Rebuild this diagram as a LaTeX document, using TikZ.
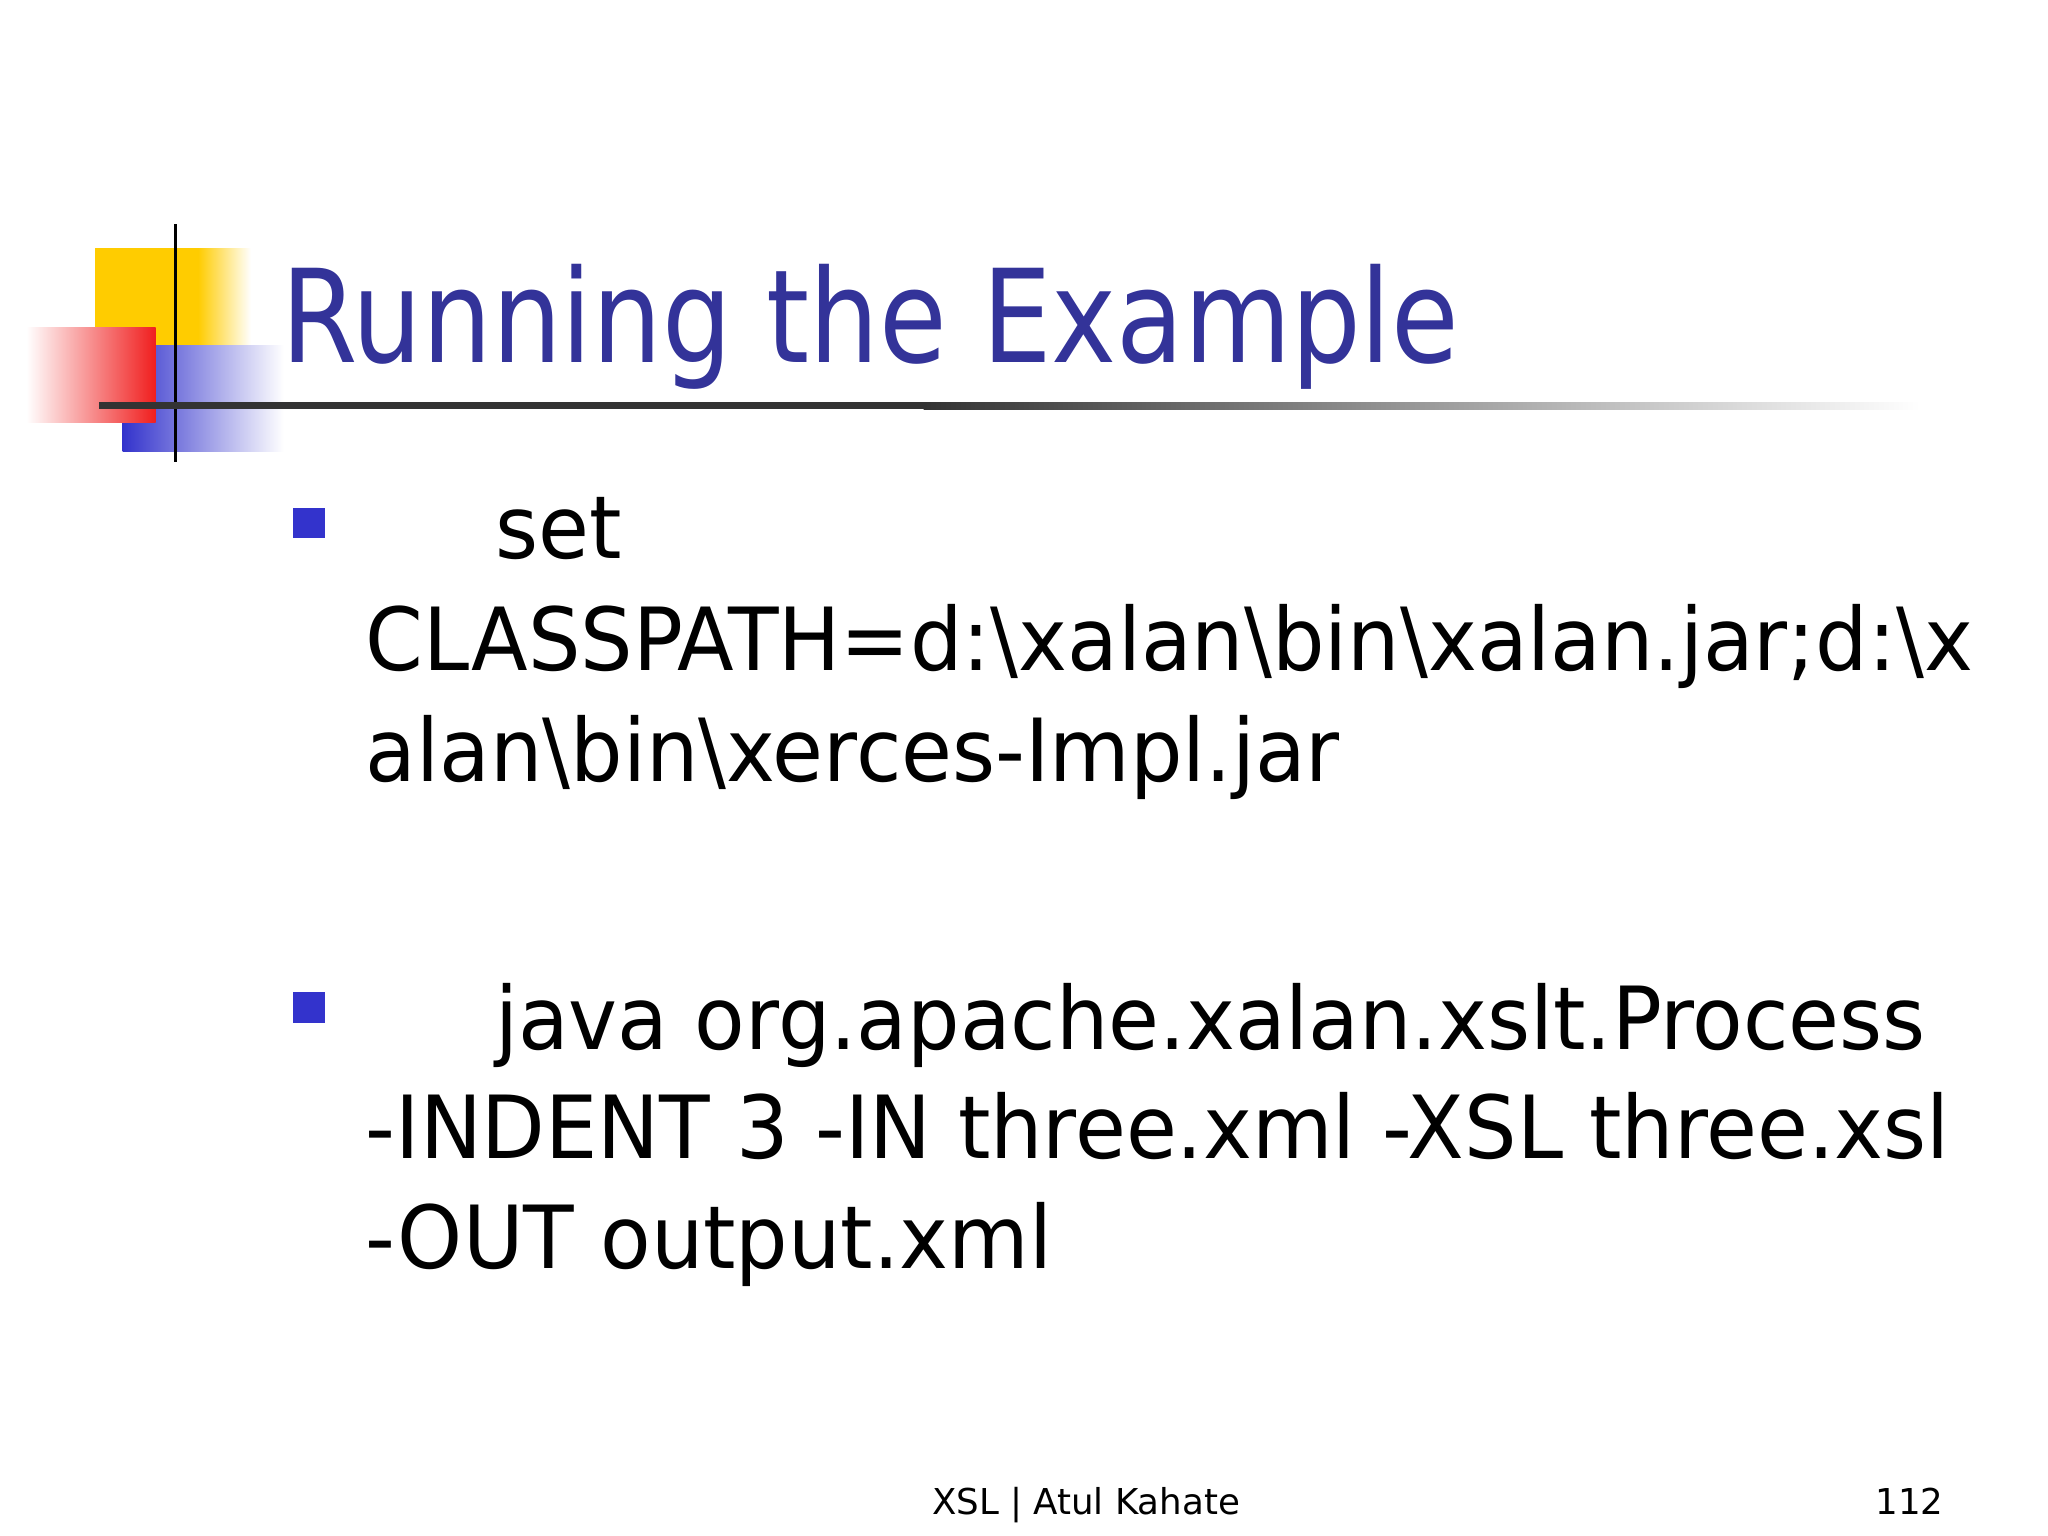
\documentclass[tikz,border=0pt]{standalone}
\usepackage{fontspec}
\setmainfont{DejaVu Sans}
\newfontfamily\narrow[FakeStretch=0.85]{DejaVu Sans}
\newfontfamily\bodyf[FakeStretch=0.95]{DejaVu Sans}
\usetikzlibrary{shadings}
\definecolor{tblue}{RGB}{51,51,153}
\definecolor{bblue}{RGB}{51,51,204}
\definecolor{yel}{RGB}{255,204,0}
\definecolor{rd}{RGB}{240,30,30}
\tikzset{body/.style={anchor=base west,inner sep=0pt,font=\bodyf\fontsize{66}{80}\selectfont},
bul/.style={fill=bblue}}
\begin{document}
\begin{tikzpicture}[x=1pt,y=-1pt]
\useasboundingbox[fill=white] (0,0) rectangle (1552,1164);
% logo
\shade[left color=yel,right color=white] (150,188) rectangle (190,300);
\fill[yel] (72,188) rectangle (150,300);
\shade[left color=bblue,right color=white] (93,262) rectangle (215,342);
\shade[left color=white,right color=rd] (20,248) rectangle (118,320);
\draw[line width=3pt] (133,170) -- (133,350);
\fill[black!80] (75,305) rectangle (700,310);
\shade[left color=black!80,right color=white] (700,305) rectangle (1455,310);
% title
\node[anchor=base west,inner sep=0pt,text=tblue,font=\narrow\fontsize{98}{110}\selectfont] (title) at (213,275) {Running the Example};
% bullets
\fill[bul] (222,385) rectangle (246,408);
\fill[bul] (222,752) rectangle (246,775);
\node[body] (l1) at (375,423) {set};
\node[body] (l2) at (277,508) {CLASSPATH=d:\textbackslash xalan\textbackslash bin\textbackslash xalan.jar;d:\textbackslash x};
\node[body] (l3) at (277,592) {alan\textbackslash bin\textbackslash xerces-Impl.jar};
\node[body] (m1) at (375,795) {java org.apache.xalan.xslt.Process};
\node[body] (m2) at (277,878) {-INDENT 3 -IN three.xml -XSL three.xsl};
\node[body] (m3) at (277,961) {-OUT output.xml};
% footer
\node[anchor=base,inner sep=0pt,font=\fontsize{27}{32}\selectfont] (foot) at (823,1148) {XSL | Atul Kahate};
\node[anchor=base east,inner sep=0pt,font=\fontsize{27}{32}\selectfont] (num) at (1473,1148) {112};
\end{tikzpicture}
\end{document}
